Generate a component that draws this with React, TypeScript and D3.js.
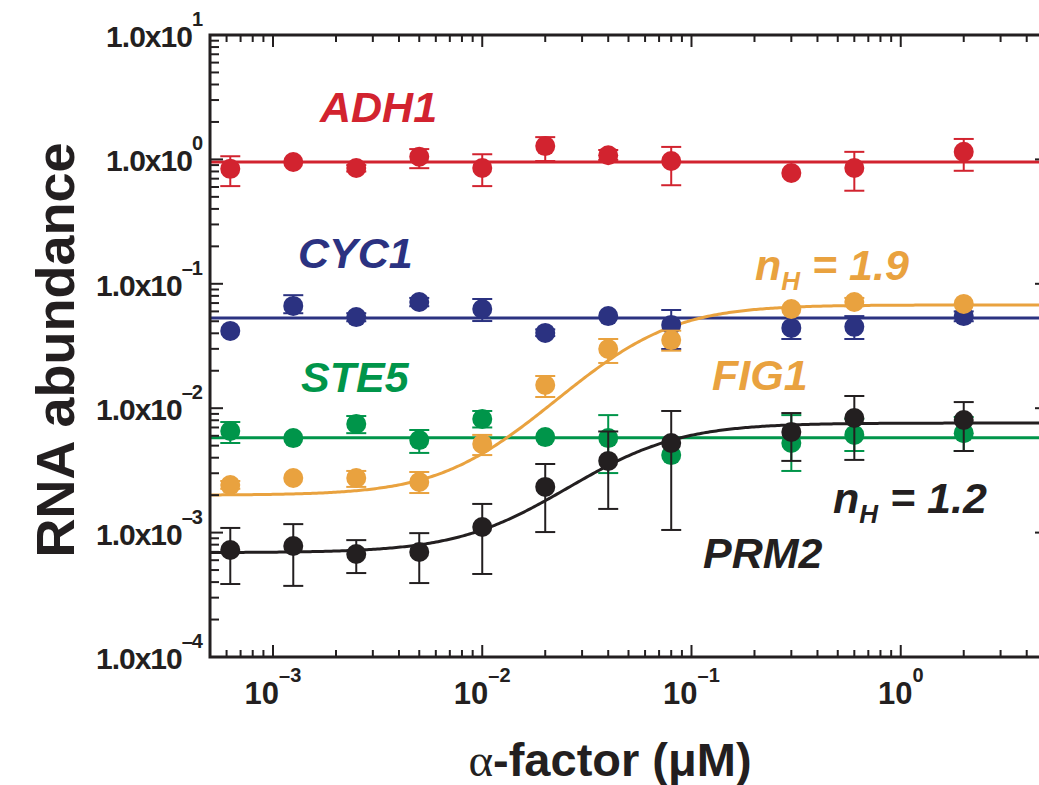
import React from 'react';
import * as d3 from 'd3';

// doses of alpha-factor (uM)
const doses = [0.000625, 0.00125, 0.0025, 0.005, 0.01, 0.02, 0.04, 0.08, 0.3, 0.6, 2];

// RNA abundance per gene (value, error low, error high; null = no bar drawn)
const adh1 = [0.84, 0.953, 0.853, 1.05, 0.853, 1.28, 1.08, 0.97, 0.778, 0.853, 1.15];
const adh1Lo = [0.61, null, 0.8, 0.85, 0.61, 0.97, 0.99, 0.62, null, 0.56, 0.81];
const adh1Hi = [1.06, null, 0.9, 1.21, 1.1, 1.51, 1.19, 1.26, null, 1.15, 1.46];

const cyc1 = [0.0418, 0.0664, 0.054, 0.0714, 0.0627, 0.0403, 0.055, 0.0467, 0.0442, 0.0451, 0.055];
const cyc1Lo = [null, 0.058, 0.05, 0.066, 0.0502, 0.038, null, 0.0299, 0.036, 0.036, 0.05];
const cyc1Hi = [null, 0.081, 0.058, 0.077, 0.0755, 0.043, null, 0.0616, 0.053, 0.055, 0.06];

const ste5 = [0.00656, 0.00575, 0.00746, 0.00554, 0.00818, 0.00586, 0.00575, 0.0042, 0.00525, 0.0061, 0.0063];
const ste5Lo = [0.00525, null, 0.0063, 0.00437, 0.007, null, 0.00301, null, 0.00313, 0.00453, 0.00453];
const ste5Hi = [0.00774, null, 0.00865, 0.00668, 0.0095, null, 0.0088, null, 0.0088, 0.0082, 0.0085];

const fig1 = [0.00241, 0.00275, 0.00275, 0.00255, 0.00515, 0.01535, 0.0299, 0.0353, 0.0627, 0.0714, 0.0689];
const fig1Lo = [0.00225, null, 0.00233, 0.00208, 0.0042, 0.0123, 0.0231, 0.029, null, 0.066, null];
const fig1Hi = [0.0026, null, 0.00313, 0.00307, 0.0061, 0.01815, 0.036, 0.042, null, 0.077, null];

const prm2 = [0.000724, 0.00078, 0.000673, 0.000698, 0.00111, 0.00233, 0.00377, 0.00525, 0.00644, 0.00834, 0.00803];
const prm2Lo = [0.000386, 0.000373, 0.000473, 0.000393, 0.000465, 0.00101, 0.00155, 0.00105, 0.00377, 0.00384, 0.00453];
const prm2Hi = [0.00109, 0.00117, 0.00087, 0.00099, 0.0017, 0.00356, 0.0065, 0.0095, 0.00914, 0.01253, 0.0112];

// fitted lines: flat levels and Hill curves [base, top, K, n]
const adh1Level = 0.953;
const cyc1Level = 0.053;
const ste5Level = 0.0058;
const fig1Fit = [0.002, 0.0676, 0.057, 1.9];
const prm2Fit = [0.00069, 0.0076, 0.05, 1.8];

const xTickValues = [0.001, 0.01, 0.1, 1];
const xTickExps = ['\u20133', '\u20132', '\u20131', '0'];
const yTickValues = [10, 1, 0.1, 0.01, 0.001, 0.0001];
const yTickExps = ['1', '0', '\u20131', '\u20132', '\u20133', '\u20134'];

const RED = '#d2232f';
const NAVY = '#2b3281';
const GREEN = '#00954a';
const ORANGE = '#e9a23f';
const BLACK = '#231f20';

const W = 1039;
const H = 785;
const left = 210, right = 1047, top = 35, bottom = 657;

const x = d3.scaleLog().domain([0.0005, 5]).range([left, right]);
const y = d3.scaleLog().domain([0.0001, 10]).range([bottom, top]);

const hill = (p: number[], c: number) => p[0] + (p[1] - p[0]) * Math.pow(c, p[3]) / (Math.pow(c, p[3]) + Math.pow(p[2], p[3]));

const curveX = d3.range(0, 401).map(i => Math.pow(10, Math.log10(0.0005) + i * 4 / 400));

const series = [
  { v: adh1, lo: adh1Lo, hi: adh1Hi, color: RED, fit: (c: number) => adh1Level },
  { v: cyc1, lo: cyc1Lo, hi: cyc1Hi, color: NAVY, fit: (c: number) => cyc1Level },
  { v: ste5, lo: ste5Lo, hi: ste5Hi, color: GREEN, fit: (c: number) => ste5Level },
  { v: fig1, lo: fig1Lo, hi: fig1Hi, color: ORANGE, fit: (c: number) => hill(fig1Fit, c) },
  { v: prm2, lo: prm2Lo, hi: prm2Hi, color: BLACK, fit: (c: number) => hill(prm2Fit, c) },
];

function minorTicks(domain: number[]) {
  const out: { v: number; major: boolean }[] = [];
  for (let e = -5; e <= 2; e++) {
    for (let k = 1; k <= 9; k++) {
      const v = k * Math.pow(10, e);
      if (v >= domain[0] * 0.999 && v <= domain[1] * 1.001) out.push({ v, major: k === 1 });
    }
  }
  return out;
}

const font = '"Liberation Sans", Arial, sans-serif';

export default function App() {
  const xt = minorTicks(x.domain());
  const yt = minorTicks(y.domain());
  return (
    <svg width={W} height={H} style={{ position: 'absolute', left: 0, top: 0, background: '#fff' }} fontFamily={font}>
      {/* fit lines */}
      {series.map((s, i) => (
        <path key={'f' + i}
          d={d3.line<number>().x(c => x(c)).y(c => y(s.fit(c)))(curveX) || ''}
          fill="none" stroke={s.color} strokeWidth={3} />
      ))}
      {/* error bars and points */}
      {series.map((s, i) => (
        <g key={'s' + i}>
          {doses.map((d, j) => s.lo[j] == null ? null : (
            <g key={j} stroke={s.color} strokeWidth={2}>
              <line x1={x(d)} x2={x(d)} y1={y(s.lo[j] as number)} y2={y(s.hi[j] as number)} />
              <line x1={x(d) - 10} x2={x(d) + 10} y1={y(s.lo[j] as number)} y2={y(s.lo[j] as number)} />
              <line x1={x(d) - 10} x2={x(d) + 10} y1={y(s.hi[j] as number)} y2={y(s.hi[j] as number)} />
            </g>
          ))}
          {doses.map((d, j) => (
            <circle key={'c' + j} cx={x(d)} cy={y(s.v[j])} r={10} fill={s.color} />
          ))}
        </g>
      ))}
      {/* frame */}
      <rect x={left} y={top} width={right - left} height={bottom - top} fill="none" stroke={BLACK} strokeWidth={3} />
      <g stroke={BLACK} strokeWidth={2}>
        {xt.map((t, i) => (
          <g key={'xt' + i}>
            <line x1={x(t.v)} x2={x(t.v)} y1={bottom} y2={bottom - (t.major ? 12 : 7)} />
            <line x1={x(t.v)} x2={x(t.v)} y1={top} y2={top + (t.major ? 12 : 7)} />
          </g>
        ))}
        {yt.map((t, i) => (
          <g key={'yt' + i}>
            <line x1={left} x2={left + (t.major ? 13 : 9)} y1={y(t.v)} y2={y(t.v)} />
            <line x1={right} x2={right - (t.major ? 12 : 7)} y1={y(t.v)} y2={y(t.v)} />
          </g>
        ))}
      </g>
      {/* tick labels */}
      {xTickValues.map((v, i) => (
        <text key={'xl' + i} x={x(v)} y={704} textAnchor="middle" fontWeight="bold" fontSize={31} fill={BLACK}>
          10<tspan fontSize={20} dy={-22}>{xTickExps[i]}</tspan>
        </text>
      ))}
      {yTickValues.map((v, i) => (
        <text key={'yl' + i} x={202} y={y(v) + 12} textAnchor="end" fontWeight="bold" fontSize={30} fill={BLACK} letterSpacing={-1}>
          1.0x10<tspan fontSize={20} dy={-21}>{yTickExps[i]}</tspan>
        </text>
      ))}
      {/* axis titles */}
      <text transform="translate(74,350) rotate(-90)" textAnchor="middle" fontWeight="bold" fontSize={54} fill={BLACK}>RNA abundance</text>
      <text x={610} y={776} textAnchor="middle" fontWeight="bold" fontSize={47} fill={BLACK}>
        <tspan fontFamily='"Liberation Serif", "Times New Roman", serif' fontWeight="normal">{'\u03b1'}</tspan>-factor ({'\u03bc'}M)
      </text>
      {/* gene labels */}
      <g fontWeight="bold" fontStyle="italic" fontSize={43}>
        <text x={320} y={122} fill={RED}>ADH1</text>
        <text x={298} y={268} fill={NAVY}>CYC1</text>
        <text x={301} y={392} fill={GREEN}>STE5</text>
        <text x={712} y={390} fill={ORANGE}>FIG1</text>
        <text x={703} y={568} fill={BLACK}>PRM2</text>
        <text x={755} y={280} fill={ORANGE}>n<tspan fontSize={26} dy={10}>H</tspan><tspan dy={-10}> = 1.9</tspan></text>
        <text x={833} y={513} fill={BLACK}>n<tspan fontSize={26} dy={10}>H</tspan><tspan dy={-10}> = 1.2</tspan></text>
      </g>
    </svg>
  );
}
